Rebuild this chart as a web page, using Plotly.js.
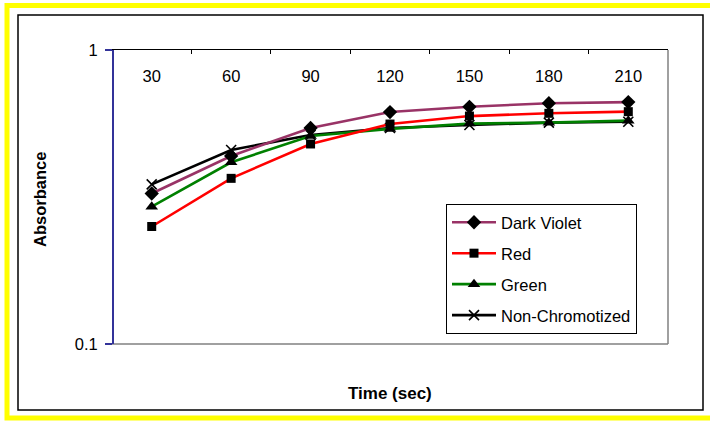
<!DOCTYPE html>
<html>
<head>
<meta charset="utf-8">
<script src="https://cdn.plot.ly/plotly-3.0.1.min.js"></script>
<style>html,body{margin:0;padding:0;background:#fff;overflow:hidden}#chart{width:710px;height:421px}</style>
</head>
<body>
<div id="chart"></div>
<script>
const times = ['30','60','90','120','150','180','210'];
const darkViolet = [0.325, 0.436, 0.543, 0.615, 0.641, 0.659, 0.665];
const red = [0.251, 0.366, 0.479, 0.560, 0.596, 0.609, 0.617];
const green = [0.293, 0.415, 0.510, 0.539, 0.562, 0.566, 0.575];
const nonChrom = [0.349, 0.457, 0.514, 0.543, 0.556, 0.566, 0.570];
const seriesNames = ['Dark Violet', 'Red', 'Green', 'Non-Chromotized'];
const yTickVals = [0.1, 1];
const yTickText = ['0.1', '1'];

const W = 710, H = 421, L = 112, R = 42, T = 50, B = 77;
const pw = W - L - R, ph = H - T - B;
const px = x => (x - L) / pw;
const py = y => (H - B - y) / ph;
const FONT = 'Arial, "Liberation Sans", sans-serif';
const FS = 16.5;

function tr(name, y, color, symbol, size, i) {
  return {
    x: times, y: y, name: name, type: 'scatter', mode: 'lines+markers',
    legendgroup: 'g' + i, legendrank: i + 1,
    line: {color: color, width: 2.6},
    marker: {symbol: symbol, size: size, color: '#000', line: {color: '#000', width: symbol.indexOf('x') === 0 ? 1.6 : 0}},
    cliponaxis: false
  };
}
const data = [
  tr(seriesNames[3], nonChrom, '#000000', 'x-thin-open', 10, 3),
  tr(seriesNames[2], green, '#008000', 'triangle-up', 11, 2),
  tr(seriesNames[1], red, '#FF0000', 'square', 9, 1),
  tr(seriesNames[0], darkViolet, '#993366', 'diamond', 11, 0)
];
// invisible helper trace so the top axis (line + boundary ticks) is drawn
data.push({x: times, y: darkViolet, xaxis: 'x2', yaxis: 'y', type: 'scatter', mode: 'none', showlegend: false, hoverinfo: 'skip'});

const layout = {
  width: W, height: H,
  margin: {l: L, r: R, t: T, b: B, pad: 0},
  paper_bgcolor: '#fff', plot_bgcolor: '#fff',
  font: {family: FONT, size: FS, color: '#000'},
  showlegend: true,
  legend: {
    x: px(446), y: py(204), xanchor: 'left', yanchor: 'top',
    bordercolor: '#000', borderwidth: 1, bgcolor: '#fff',
    font: {family: FONT, size: FS, color: '#000'},
    itemwidth: 44, tracegroupgap: 6.5, traceorder: 'grouped'
  },
  // category labels, sitting just below the top axis line
  xaxis: {
    type: 'category', range: [-0.5, 6.5], side: 'bottom', anchor: 'free', position: py(64),
    showline: false, ticks: '', showgrid: false, zeroline: false, fixedrange: true,
    tickfont: {family: FONT, size: FS, color: '#000'}
  },
  // top axis line with inside ticks on category boundaries
  xaxis2: {
    type: 'category', range: [-0.5, 6.5], side: 'top', anchor: 'y', overlaying: 'x', matches: 'x',
    showline: true, linecolor: '#000', linewidth: 1,
    ticks: 'inside', ticklen: 4, tickcolor: '#000', tickson: 'boundaries',
    showticklabels: false, showgrid: false, zeroline: false, fixedrange: true
  },
  yaxis: {
    type: 'log', range: [-1, 0], anchor: 'free', position: 0, side: 'left',
    showline: true, linecolor: '#333399', linewidth: 1.5,
    ticks: 'outside', ticklen: 7, tickcolor: '#333399', tickwidth: 1.5,
    tickvals: yTickVals, ticktext: yTickText, ticklabelstandoff: 4,
    showgrid: false, zeroline: false, fixedrange: true,
    tickfont: {family: FONT, size: FS, color: '#000'}
  },
  shapes: [
    {type: 'rect', xref: 'paper', yref: 'paper', x0: px(7), x1: px(716), y0: py(5.5), y1: py(418),
     line: {color: '#FFFF00', width: 5}, layer: 'below'},
    {type: 'rect', xref: 'paper', yref: 'paper', x0: px(18), x1: px(703), y0: py(15), y1: py(410),
     line: {color: '#000', width: 1.5}, layer: 'below'},
    {type: 'line', xref: 'paper', yref: 'paper', x0: 1, x1: 1, y0: 0, y1: 1, line: {color: '#808080', width: 1.5}, layer: 'below'},
    {type: 'line', xref: 'paper', yref: 'paper', x0: 0, x1: 1, y0: 0, y1: 0, line: {color: '#808080', width: 1.5}, layer: 'below'}
  ],
  annotations: [
    {text: '<b>Time (sec)</b>', xref: 'paper', yref: 'paper', x: px(390), y: py(393.5), showarrow: false,
     xanchor: 'center', yanchor: 'middle', font: {family: FONT, size: 17, color: '#000'}},
    {text: '<b>Absorbance</b>', xref: 'paper', yref: 'paper', x: px(40), y: py(200), showarrow: false,
     textangle: -90, xanchor: 'center', yanchor: 'middle', font: {family: FONT, size: FS, color: '#000'}}
  ]
};
Plotly.newPlot('chart', data, layout, {displayModeBar: false, staticPlot: true});
</script>
</body>
</html>
